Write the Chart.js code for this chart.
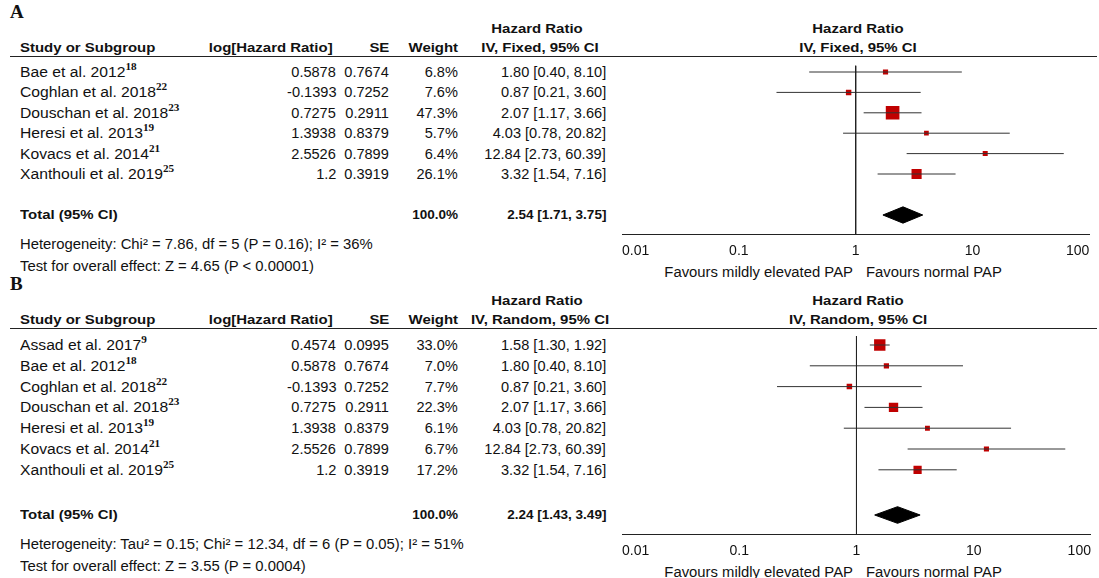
<!DOCTYPE html>
<html><head><meta charset="utf-8">
<script src="https://cdn.jsdelivr.net/npm/chart.js@4/dist/chart.umd.min.js"></script>
<style>
body{margin:0;background:#fff;font-family:"Liberation Sans",Arial,sans-serif;font-size:14px;color:#111}
#page{position:relative;width:1099px;height:578px;overflow:hidden}
.t{position:absolute;line-height:16px;white-space:nowrap}
.b{font-weight:bold}
.hl{position:absolute;height:1px;background:#222}
sup{font-size:10px;vertical-align:7px;line-height:0;font-family:"Liberation Serif",serif;font-weight:bold}
canvas{position:absolute}
</style></head><body><div id="page"></div>
<script>
// panel A data
const studiesA = ['Bae et al. 2012', 'Coghlan et al. 2018', 'Douschan et al. 2018', 'Heresi et al. 2013', 'Kovacs et al. 2014', 'Xanthouli et al. 2019'];
const refsA = ['18', '22', '23', '19', '21', '25'];
const logHrA = ['0.5878', '-0.1393', '0.7275', '1.3938', '2.5526', '1.2'];
const seA = ['0.7674', '0.7252', '0.2911', '0.8379', '0.7899', '0.3919'];
const weightA = [6.8, 7.6, 47.3, 5.7, 6.4, 26.1];
const hrA = [1.80, 0.87, 2.07, 4.03, 12.84, 3.32];
const loA = [0.40, 0.21, 1.17, 0.78, 2.73, 1.54];
const hiA = [8.10, 3.60, 3.66, 20.82, 60.39, 7.16];
const totalA = [2.54, 1.71, 3.75];

// panel B data
const studiesB = ['Assad et al. 2017', 'Bae et al. 2012', 'Coghlan et al. 2018', 'Douschan et al. 2018', 'Heresi et al. 2013', 'Kovacs et al. 2014', 'Xanthouli et al. 2019'];
const refsB = ['9', '18', '22', '23', '19', '21', '25'];
const logHrB = ['0.4574', '0.5878', '-0.1393', '0.7275', '1.3938', '2.5526', '1.2'];
const seB = ['0.0995', '0.7674', '0.7252', '0.2911', '0.8379', '0.7899', '0.3919'];
const weightB = [33.0, 7.0, 7.7, 22.3, 6.1, 6.7, 17.2];
const hrB = [1.58, 1.80, 0.87, 2.07, 4.03, 12.84, 3.32];
const loB = [1.30, 0.40, 0.21, 1.17, 0.78, 2.73, 1.54];
const hiB = [1.92, 8.10, 3.60, 3.66, 20.82, 60.39, 7.16];
const totalB = [2.24, 1.43, 3.49];

const tickVals = [0.01, 0.1, 1, 10, 100];
const tickLabels = ['0.01', '0.1', '1', '10', '100'];

const page = document.getElementById('page');
function txt(s, x, y, opt) {
  opt = opt || {};
  const sx = opt.sx || 1.12;
  const d = document.createElement('div');
  d.className = 't' + (opt.bold ? ' b' : '');
  d.innerHTML = s;
  d.style.top = (y - 8) + 'px';
  if (opt.align === 'right') {
    d.style.right = (1099 - x) + 'px';
    d.style.transformOrigin = 'right center';
    d.style.transform = 'scaleX(' + sx + ')';
  } else if (opt.align === 'center') {
    d.style.left = x + 'px';
    d.style.transform = 'translateX(-50%) scaleX(' + sx + ')';
  } else {
    d.style.left = x + 'px';
    d.style.transformOrigin = 'left center';
    d.style.transform = 'scaleX(' + sx + ')';
  }
  if (opt.size) d.style.fontSize = opt.size;
  if (opt.font) d.style.fontFamily = opt.font;
  page.appendChild(d);
}
function hline(x1, x2, y) {
  const d = document.createElement('div');
  d.className = 'hl';
  d.style.left = x1 + 'px'; d.style.width = (x2 - x1) + 'px'; d.style.top = y + 'px';
  page.appendChild(d);
}
const f2 = v => v.toFixed(2);

function panel(p) {
  const o = p.offset;
  txt(p.letter, 10, o + 12, {bold: true, size: '19px', font: '"Liberation Serif",serif', sx: 1});
  const hb = {bold: true, size: '13px', sx: 1.15};
  const num = {align: 'right', sx: 1.04};
  txt('Hazard Ratio', 537, o + 29, Object.assign({align: 'center'}, hb));
  txt('Hazard Ratio', 858, o + 29, Object.assign({align: 'center'}, hb));
  txt('Study or Subgroup', 20, o + 48, hb);
  txt('log[Hazard Ratio]', 333, o + 48, Object.assign({align: 'right'}, hb));
  txt('SE', 389, o + 48, Object.assign({align: 'right'}, hb));
  txt('Weight', 458, o + 48, Object.assign({align: 'right'}, hb));
  txt(p.method, 540, o + 48, Object.assign({align: 'center'}, hb));
  txt(p.method, 858, o + 48, Object.assign({align: 'center'}, hb));
  hline(10, 1097, o + p.lineY);
  p.studies.forEach((s, i) => {
    const y = o + p.rowY0 + i * p.rowH;
    txt(s + '<sup>' + p.refs[i] + '</sup>', 20, y);
    txt(p.logHr[i], 336, y, num);
    txt(p.se[i], 389, y, num);
    txt(p.weight[i].toFixed(1) + '%', 458, y, num);
    txt(f2(p.hr[i]) + ' [' + f2(p.lo[i]) + ', ' + f2(p.hi[i]) + ']', 606, y, num);
  });
  const ty = o + p.totalY;
  txt('Total (95% CI)', 20, ty, hb);
  txt('100.0%', 458, ty, Object.assign({}, hb, {align: 'right', sx: 1.04}));
  txt(f2(p.total[0]) + ' [' + f2(p.total[1]) + ', ' + f2(p.total[2]) + ']', 606, ty, Object.assign({}, hb, {align: 'right', sx: 1.04}));
  txt(p.het, 20, o + p.totalY + 29, {sx: 1.06});
  txt(p.test, 20, o + p.totalY + 51, {sx: 1.06});
  txt('Favours mildly elevated PAP', 853, o + p.axisY + 37, {align: 'right', sx: 1.06});
  txt('Favours normal PAP', 866, o + p.axisY + 37, {sx: 1.06});

  // chart
  const top = o + p.lineY, h = p.axisY - p.lineY + 28;
  const wrap = document.createElement('div');
  wrap.style.cssText = 'position:absolute;left:600px;top:' + top + 'px;width:499px;height:' + h + 'px';
  const cv = document.createElement('canvas');
  cv.style.left = '0'; cv.style.top = '0';
  wrap.appendChild(cv); page.appendChild(wrap);

  const n = p.studies.length;
  const tIdx = (p.totalY - p.rowY0) / p.rowH;
  const yTop = -(p.rowY0 - p.lineY) / p.rowH;
  const yBot = (p.axisY - p.rowY0) / p.rowH;
  const datasets = [];
  datasets.push({type: 'line', data: [{x: 1, y: yTop + 0.1}, {x: 1, y: yBot + 1}], borderColor: '#222', borderWidth: 1, pointRadius: 0});
  for (let i = 0; i < n; i++) {
    datasets.push({type: 'line', data: [{x: p.lo[i], y: i}, {x: p.hi[i], y: i}], borderColor: '#333', borderWidth: 1, pointRadius: 0});
  }
  datasets.push({type: 'scatter', data: p.hr.map((v, i) => ({x: v, y: i})),
    pointStyle: 'rect', pointRadius: p.weight.map(w => Math.max(1.8, Math.sqrt(w) * 1.4)),
    backgroundColor: '#c00000', borderColor: '#c00000', borderWidth: 0});
  datasets.push({type: 'line', data: [{x: p.total[1], y: tIdx}, {x: p.total[0], y: tIdx - 0.4}, {x: p.total[2], y: tIdx}, {x: p.total[0], y: tIdx + 0.4}, {x: p.total[1], y: tIdx}],
    borderColor: '#000', backgroundColor: '#000', fill: 'shape', borderWidth: 1, pointRadius: 0, tension: 0});
  // align the row scale with the html table rows once the chart area is known
  const alignRows = {
    id: 'alignRows',
    afterLayout(chart) {
      if (chart.$aligned) return;
      chart.$aligned = true;
      const a = chart.chartArea;
      chart.options.scales.y.min = (a.top + top - (o + p.rowY0)) / p.rowH;
      chart.options.scales.y.max = (a.bottom + top - (o + p.rowY0)) / p.rowH;
      chart.update();
    }
  };
  new Chart(cv, {
    data: {datasets},
    plugins: [alignRows],
    options: {
      responsive: true, maintainAspectRatio: false, animation: false,
      layout: {padding: {left: 22, right: 3, top: 0, bottom: 0}},
      plugins: {legend: {display: false}, tooltip: {enabled: false}},
      scales: {
        x: {type: 'logarithmic', min: 0.01, max: 100,
          afterBuildTicks: ax => { ax.ticks = tickVals.map(v => ({value: v})); },
          ticks: {callback: (v, i) => tickLabels[i], align: 'inner', color: '#111', font: {family: '"Liberation Sans",Arial', size: 14}, maxRotation: 0, padding: 3},
          grid: {display: false, drawTicks: true, tickLength: 6, tickColor: '#222'},
          border: {color: '#222'}},
        y: {type: 'linear', reverse: true, min: yTop, max: yBot, display: false}
      }
    }
  });
}

panel({offset: 0, letter: 'A', method: 'IV, Fixed, 95% CI', lineY: 56, rowY0: 72, rowH: 20.4, totalY: 215, axisY: 235,
  studies: studiesA, refs: refsA, logHr: logHrA, se: seA, weight: weightA, hr: hrA, lo: loA, hi: hiA, total: totalA,
  het: 'Heterogeneity: Chi² = 7.86, df = 5 (P = 0.16); I² = 36%',
  test: 'Test for overall effect: Z = 4.65 (P &lt; 0.00001)'});
panel({offset: 272, letter: 'B', method: 'IV, Random, 95% CI', lineY: 56, rowY0: 73, rowH: 20.8, totalY: 243, axisY: 263,
  studies: studiesB, refs: refsB, logHr: logHrB, se: seB, weight: weightB, hr: hrB, lo: loB, hi: hiB, total: totalB,
  het: 'Heterogeneity: Tau² = 0.15; Chi² = 12.34, df = 6 (P = 0.05); I² = 51%',
  test: 'Test for overall effect: Z = 3.55 (P = 0.0004)'});
</script></body></html>
